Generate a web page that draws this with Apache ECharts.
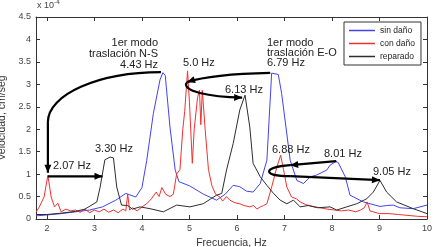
<!DOCTYPE html>
<html>
<head>
<meta charset="utf-8">
<script src="https://cdn.jsdelivr.net/npm/echarts@6/dist/echarts.min.js"></script>
<style>
  html, body { margin: 0; padding: 0; background: #fff; }
  #chart { width: 441px; height: 247px; }
</style>
</head>
<body>
<div id="chart"></div>
<script>
// datos (velocidad en unidades de 1e-4 cm/seg)
var freqSinDano = [1.77, 2.0, 2.3, 2.6, 2.9, 3.17, 3.45, 3.66, 3.87, 4.0, 4.1, 4.24, 4.38, 4.44, 4.49, 4.59, 4.7, 4.78, 5.0, 5.3, 5.57, 5.75, 5.92, 6.06, 6.2, 6.34, 6.49, 6.63, 6.73, 6.87, 6.94, 7.12, 7.26, 7.4, 7.54, 7.68, 7.89, 7.96, 8.08, 8.13, 8.28, 8.38, 8.66, 9.01, 9.15, 9.29, 9.43, 9.71, 10.0]
var velSinDano = [0.07, 0.09, 0.12, 0.16, 0.2, 0.27, 0.42, 0.57, 0.49, 0.7, 1.3, 2.35, 3.1, 3.26, 3.2, 2.05, 1.09, 0.83, 0.74, 0.55, 0.42, 0.55, 0.75, 0.72, 0.62, 0.6, 0.79, 1.31, 3.25, 3.22, 2.8, 1.31, 0.86, 0.79, 0.94, 0.98, 1.09, 1.2, 1.28, 1.26, 0.94, 0.53, 0.38, 0.28, 0.3, 0.31, 0.25, 0.23, 0.31]

var freqConDano = [1.77, 1.84, 1.94, 2.02, 2.09, 2.16, 2.23, 2.3, 2.4, 2.5, 2.6, 2.7, 2.8, 2.9, 3.0, 3.1, 3.2, 3.3, 3.4, 3.5, 3.6, 3.66, 3.7, 3.74, 3.8, 3.9, 4.0, 4.1, 4.2, 4.3, 4.36, 4.42, 4.5, 4.59, 4.66, 4.73, 4.8, 4.86, 4.9, 4.96, 5.0, 5.06, 5.1, 5.17, 5.21, 5.24, 5.27, 5.33, 5.4, 5.47, 5.55, 5.64, 5.7, 5.78, 5.85, 5.92, 6.0, 6.06, 6.15, 6.27, 6.35, 6.42, 6.49, 6.56, 6.63, 6.73, 6.84, 6.92, 6.98, 7.05, 7.15, 7.25, 7.33, 7.45, 7.6, 7.75, 7.9, 8.05, 8.2, 8.35, 8.5, 8.6, 8.68, 8.74, 8.8, 8.9, 9.0, 9.2, 9.4, 9.6, 9.8, 10.0]
var velConDano = [0.15, 0.27, 0.49, 0.97, 0.49, 0.27, 0.35, 0.16, 0.22, 0.18, 0.2, 0.15, 0.22, 0.14, 0.2, 0.16, 0.22, 0.15, 0.2, 0.14, 0.22, 0.18, 0.55, 0.2, 0.25, 0.18, 0.27, 0.34, 0.45, 0.6, 0.5, 0.7, 0.55, 0.5, 0.55, 1.0, 1.1, 2.0, 2.4, 3.3, 2.6, 1.24, 2.0, 2.7, 2.87, 2.1, 2.87, 2.0, 1.1, 0.75, 0.55, 0.49, 0.4, 0.5, 0.42, 0.38, 0.35, 0.34, 0.3, 0.27, 0.3, 0.22, 0.27, 0.3, 0.34, 0.71, 1.16, 1.42, 1.1, 0.71, 0.49, 0.45, 0.38, 0.32, 0.28, 0.25, 0.22, 0.2, 0.18, 0.2, 0.16, 0.2, 0.25, 0.38, 0.18, 0.15, 0.12, 0.12, 0.1, 0.08, 0.06, 0.05]

var freqReparado = [1.77, 2.0, 2.3, 2.6, 2.8, 3.05, 3.12, 3.22, 3.33, 3.4, 3.47, 3.57, 3.7, 3.8, 3.96, 4.17, 4.45, 4.73, 5.01, 5.29, 5.45, 5.57, 5.68, 5.78, 5.92, 6.06, 6.17, 6.27, 6.34, 6.49, 6.63, 6.77, 6.91, 7.05, 7.19, 7.33, 7.5, 7.7, 7.96, 8.1, 8.31, 8.52, 8.73, 8.87, 9.01, 9.15, 9.36, 9.71, 10.0]
var velReparado = [0.1, 0.1, 0.13, 0.17, 0.22, 0.38, 0.71, 1.32, 1.38, 1.36, 0.71, 0.31, 0.3, 0.22, 0.27, 0.23, 0.16, 0.31, 0.27, 0.34, 0.45, 0.53, 0.57, 1.09, 1.68, 2.43, 2.76, 2.05, 1.24, 0.94, 0.75, 0.57, 0.42, 0.34, 0.42, 0.27, 0.3, 0.25, 0.27, 0.2, 0.27, 0.34, 0.45, 0.6, 0.86, 0.6, 0.38, 0.23, 0.12]

var ticksX = [2, 3, 4, 5, 6, 7, 8, 9, 10]
var nombres = ['sin daño', 'con daño', 'reparado']
var colores = ['#4343ee', '#f23030', '#2e2e2e']

var fuente = 'Liberation Sans, Arial, sans-serif'
var chart = echarts.init(document.getElementById('chart'))

function pares (xs, ys) {
  return xs.map(function (x, i) { return [x, ys[i]] })
}

function ejeX (pos, conTexto) {
  return {
    type: 'value', min: 1.77, max: 10, position: pos,
    axisLine: { onZero: false, lineStyle: { color: '#333', width: 1 } },
    axisTick: { inside: true, length: 4, customValues: ticksX, lineStyle: { color: '#333' } },
    axisLabel: { show: conTexto, customValues: ticksX, fontSize: 9, color: '#444', margin: 5, fontFamily: fuente },
    splitLine: { show: false }
  }
}
function ejeY (pos, conTexto) {
  return {
    type: 'value', min: 0, max: 4.5, interval: 0.5, position: pos,
    axisLine: { show: true, lineStyle: { color: '#333', width: 1 } },
    axisTick: { show: true, inside: true, length: 4, lineStyle: { color: '#333' } },
    axisLabel: { show: conTexto, fontSize: 9, color: '#444', margin: 5, fontFamily: fuente },
    splitLine: { show: false }
  }
}

var xAbajo = ejeX('bottom', true)
xAbajo.name = 'Frecuencia, Hz'
xAbajo.nameLocation = 'middle'
xAbajo.nameGap = 14
xAbajo.nameTextStyle = { fontSize: 10.5, color: '#333', fontFamily: fuente }
var yIzq = ejeY('left', true)
yIzq.name = 'Velocidad, cm/seg'
yIzq.nameLocation = 'middle'
yIzq.nameGap = 19
yIzq.nameTextStyle = { fontSize: 10.5, color: '#333', fontFamily: fuente }

var datos = [pares(freqSinDano, velSinDano), pares(freqConDano, velConDano), pares(freqReparado, velReparado)]

var option = {
  animation: false,
  backgroundColor: '#fff',
  grid: { left: 36, right: 14, top: 17, bottom: 28, containLabel: false, outerBoundsMode: 'none' },
  legend: {
    orient: 'vertical', left: 344, top: 22,
    itemWidth: 26, itemHeight: 1.5, itemGap: 2, icon: 'rect',
    padding: [3, 6, 3, 5],
    backgroundColor: '#fff', borderColor: '#333', borderWidth: 1, borderRadius: 0,
    textStyle: { fontSize: 8.5, color: '#222', fontFamily: fuente, lineHeight: 11 },
    data: nombres
  },
  xAxis: [xAbajo, ejeX('top', false)],
  yAxis: [yIzq, ejeY('right', false)],
  series: nombres.map(function (n, i) {
    return {
      name: n, type: 'line', data: datos[i], symbol: 'none',
      xAxisIndex: 0, yAxisIndex: 0,
      lineStyle: { width: 1, color: colores[i] }, itemStyle: { color: colores[i] }
    }
  })
}
chart.setOption(option)

// flechas de anotacion, en coordenadas de datos
var curvas = [
  { p: [[4.40, 3.27], [3.08, 3.27], [2.02, 2.77], [2.02, 2.16]], punta: false },
  { p: [[6.70, 3.255], [6.0, 3.24], [5.3, 3.17], [4.95, 3.05]], punta: true },
  { p: [[4.95, 3.05], [4.80, 2.85], [5.43, 2.72], [6.11, 2.705]], punta: true },
  { p: [[7.12, 1.20], [6.53, 1.154], [6.53, 0.953], [7.12, 0.953]], punta: false }
]
var rectas = [
  [[2.02, 2.16], [2.02, 1.03]],
  [[2.02, 0.95], [3.17, 0.95]],
  [[8.09, 1.29], [7.12, 1.20]],
  [[7.12, 0.953], [9.01, 0.864]]
]

function px (p) { return chart.convertToPixel({ xAxisIndex: 0, yAxisIndex: 0 }, p) }
function punta (tip, from) {
  var dx = tip[0] - from[0], dy = tip[1] - from[1]
  var l = Math.sqrt(dx * dx + dy * dy)
  dx /= l; dy /= l
  var L = 8, W = 3.5
  var bx = tip[0] - dx * L, by = tip[1] - dy * L
  return { type: 'polygon', z: 110, shape: { points: [tip, [bx - dy * W, by + dx * W], [bx + dy * W, by - dx * W]] }, style: { fill: '#000' } }
}

var graficos = []
curvas.forEach(function (c) {
  var q = c.p.map(px)
  graficos.push({ type: 'bezierCurve', z: 100, shape: { x1: q[0][0], y1: q[0][1], cpx1: q[1][0], cpy1: q[1][1], cpx2: q[2][0], cpy2: q[2][1], x2: q[3][0], y2: q[3][1] }, style: { stroke: '#000', lineWidth: 2.2, fill: null } })
  if (c.punta) graficos.push(punta(q[3], q[2]))
})
rectas.forEach(function (r) {
  var a = px(r[0]), b = px(r[1])
  graficos.push({ type: 'line', z: 100, shape: { x1: a[0], y1: a[1], x2: b[0], y2: b[1] }, style: { stroke: '#000', lineWidth: 2.2 } })
  graficos.push(punta(b, a))
})

// textos de anotacion
var textos = [
  ['1er modo', 158, 43, 'right'], ['traslación N-S', 158, 54, 'right'], ['4.43 Hz', 158, 64.5, 'right'],
  ['5.0 Hz', 183, 63, 'left'], ['6.13 Hz', 225, 89.5, 'left'],
  ['1er modo', 267, 42.5, 'left'], ['traslación E-O', 267, 52.5, 'left'], ['6.79 Hz', 267, 63, 'left'],
  ['2.07 Hz', 53, 165.5, 'left'], ['3.30 Hz', 95, 148.5, 'left'], ['6.88 Hz', 272, 150, 'left'],
  ['8.01 Hz', 324, 153.5, 'left'], ['9.05 Hz', 373, 172, 'left']
]
textos.forEach(function (t) {
  graficos.push({ type: 'text', z: 120, x: t[1], y: t[2], style: { text: t[0], fill: '#222', font: '11px ' + fuente, align: t[3], verticalAlign: 'middle' } })
})
graficos.push({ type: 'text', z: 120, x: 37, y: 6, style: { text: 'x 10', fill: '#444', font: '9px ' + fuente, verticalAlign: 'middle' } })
graficos.push({ type: 'text', z: 120, x: 54, y: 2.5, style: { text: '-4', fill: '#444', font: '6.5px ' + fuente, verticalAlign: 'middle' } })

chart.setOption({ graphic: graficos })
window.addEventListener('resize', function () { chart.resize() })
</script>
</body>
</html>
